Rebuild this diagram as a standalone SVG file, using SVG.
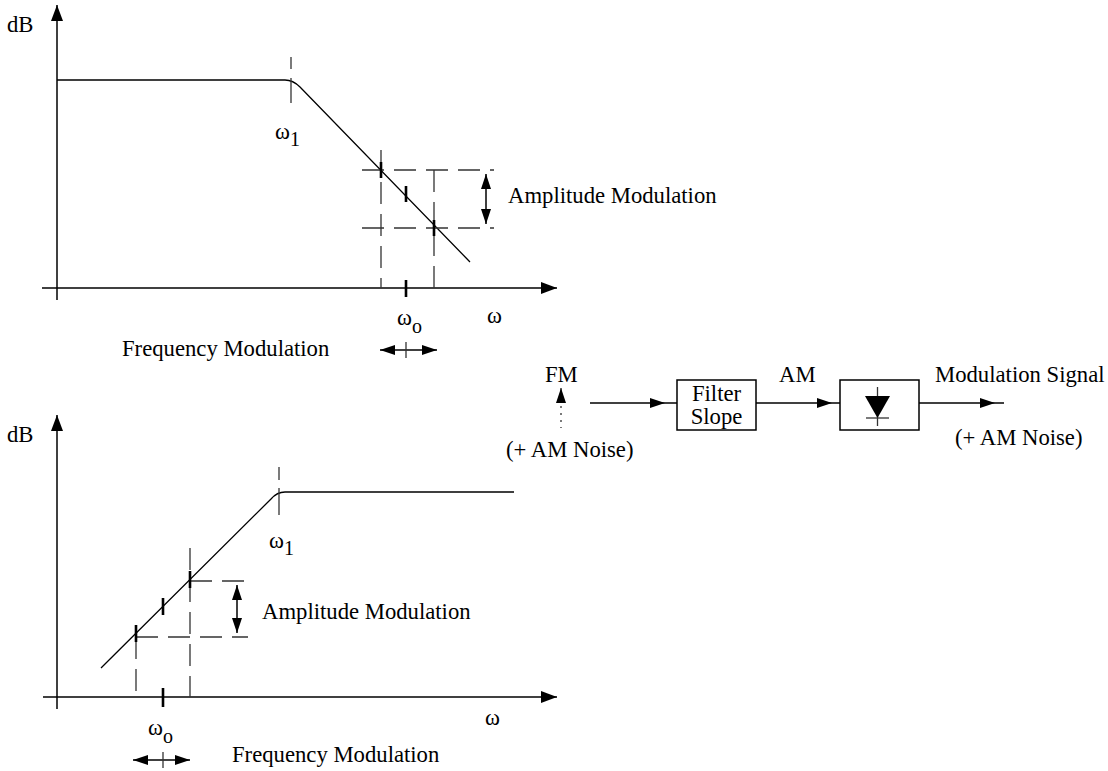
<svg xmlns="http://www.w3.org/2000/svg" width="1108" height="771" viewBox="0 0 1108 771" font-family="'Liberation Serif','Times New Roman',Times,'DejaVu Serif',serif">
<style>
text{font-family:"Liberation Serif","Times New Roman",Times,"DejaVu Serif",serif;font-size:22.7px;fill:#000}
.sub{font-size:20px}
.ax{stroke:#000;stroke-width:1.5;fill:none}
.cv{stroke:#000;stroke-width:1.3;fill:none}
.ds{stroke:#333;stroke-width:1.3;stroke-dasharray:22 10;fill:none}
.tk{stroke:#000;stroke-width:2.6}
.ln{stroke:#333;stroke-width:1.3}
.bx{stroke:#000;stroke-width:1.5;fill:#fff}
</style>
<defs>
<marker id="ah" viewBox="0 0 16 12" refX="16" refY="6" markerWidth="16" markerHeight="12" orient="auto-start-reverse" markerUnits="userSpaceOnUse"><path d="M0,0 L16,6 L0,12 z" fill="#000"/></marker>
<marker id="sh" viewBox="0 0 15 10" refX="15" refY="5" markerWidth="15" markerHeight="10" orient="auto-start-reverse" markerUnits="userSpaceOnUse"><path d="M0,0 L15,5 L0,10 z" fill="#000"/></marker>
</defs>

<g id="top-graph">
<text x="7" y="32">dB</text>
<line class="ax" x1="57" y1="300" x2="57" y2="5" marker-end="url(#ah)"/>
<line class="ax" x1="42" y1="288" x2="557" y2="288" marker-end="url(#ah)"/>
<path class="cv" d="M57,80 L285,80 Q293,80 300,87 L470,262"/>
<line class="ln" x1="291" y1="57" x2="291" y2="69"/>
<line class="ln" x1="291" y1="78" x2="291" y2="103"/>
<text x="275" y="139">ω<tspan class="sub" dy="7">1</tspan></text>
<line class="ds" x1="362" y1="170" x2="494" y2="170"/>
<line class="ds" x1="362" y1="228" x2="494" y2="228"/>
<line class="ds" x1="381" y1="150" x2="381" y2="288"/>
<line class="ds" x1="434" y1="170" x2="434" y2="288"/>
<line class="tk" x1="381" y1="162" x2="381" y2="178"/>
<line class="tk" x1="406" y1="186" x2="406" y2="202"/>
<line class="tk" x1="434" y1="220" x2="434" y2="236"/>
<line class="tk" x1="406" y1="280" x2="406" y2="297"/>
<line class="ax" x1="486" y1="174" x2="486" y2="224" marker-start="url(#sh)" marker-end="url(#sh)"/>
<text x="508" y="203">Amplitude Modulation</text>
<text x="397" y="325">ω<tspan class="sub" dy="8">o</tspan></text>
<text x="487" y="323">ω</text>
<text x="122" y="356">Frequency Modulation</text>
<line class="ax" x1="380" y1="350" x2="437" y2="350" marker-start="url(#sh)" marker-end="url(#sh)"/>
<line class="ln" x1="406" y1="342" x2="406" y2="358"/>
</g>

<g id="bottom-graph">
<text x="7" y="442">dB</text>
<line class="ax" x1="57" y1="709" x2="57" y2="415" marker-end="url(#ah)"/>
<line class="ax" x1="43" y1="697" x2="557" y2="697" marker-end="url(#ah)"/>
<path class="cv" d="M101,668 L271,499 Q277,492 285,492 L514,492"/>
<line class="ln" x1="279" y1="467" x2="279" y2="480"/>
<line class="ln" x1="279" y1="488" x2="279" y2="515"/>
<text x="269" y="548">ω<tspan class="sub" dy="7">1</tspan></text>
<line class="ds" x1="190" y1="581" x2="244" y2="581"/>
<line class="ds" x1="136" y1="637" x2="248" y2="637"/>
<line class="ds" x1="136" y1="637" x2="136" y2="697"/>
<line class="ds" x1="190" y1="548" x2="190" y2="697"/>
<line class="tk" x1="136" y1="625" x2="136" y2="642"/>
<line class="tk" x1="163" y1="598" x2="163" y2="615"/>
<line class="tk" x1="190" y1="571" x2="190" y2="588"/>
<line class="tk" x1="163" y1="688" x2="163" y2="707"/>
<line class="ax" x1="237" y1="585" x2="237" y2="633" marker-start="url(#sh)" marker-end="url(#sh)"/>
<text x="262" y="619">Amplitude Modulation</text>
<text x="148" y="735">ω<tspan class="sub" dy="8">o</tspan></text>
<text x="485" y="725">ω</text>
<text x="232" y="762">Frequency Modulation</text>
<line class="ax" x1="133" y1="760" x2="190" y2="760" marker-start="url(#sh)" marker-end="url(#sh)"/>
<line class="ln" x1="163" y1="752" x2="163" y2="768"/>
</g>

<g id="fm-input">
<text x="545" y="382">FM</text>
<line class="ln" x1="561" y1="402" x2="561" y2="388" marker-end="url(#sh)"/>
<line x1="561" y1="406" x2="561" y2="428" stroke="#333" stroke-width="1.3" stroke-dasharray="2 5"/>
<text x="506" y="457">(+ AM Noise)</text>
</g>

<g id="filter-slope">
<rect class="bx" x="677" y="380" width="79" height="50"/>
<text x="716.5" y="401" text-anchor="middle" font-size="21.5">Filter</text>
<text x="716.5" y="424" text-anchor="middle" font-size="21.5">Slope</text>
</g>

<g id="detector">
<rect class="bx" x="840" y="380" width="79" height="50"/>
<line class="ln" x1="877.5" y1="387" x2="877.5" y2="426"/>
<path d="M865,396 L890,396 L877.5,418 z" fill="#000"/>
<line class="ln" x1="866" y1="418" x2="889" y2="418"/>
</g>

<g id="output-labels">
<text x="779" y="382">AM</text>
<text x="935" y="382">Modulation Signal</text>
<text x="955" y="445">(+ AM Noise)</text>
</g>

<g id="connectors">
<line class="ax" x1="590" y1="403" x2="665" y2="403" marker-end="url(#sh)"/>
<line class="ax" x1="665" y1="403" x2="677" y2="403"/>
<line class="ax" x1="756" y1="403" x2="832" y2="403" marker-end="url(#sh)"/>
<line class="ax" x1="832" y1="403" x2="840" y2="403"/>
<line class="ax" x1="919" y1="403" x2="995" y2="403" marker-end="url(#sh)"/>
<line class="ax" x1="995" y1="403" x2="1004" y2="403"/>
</g>
</svg>
